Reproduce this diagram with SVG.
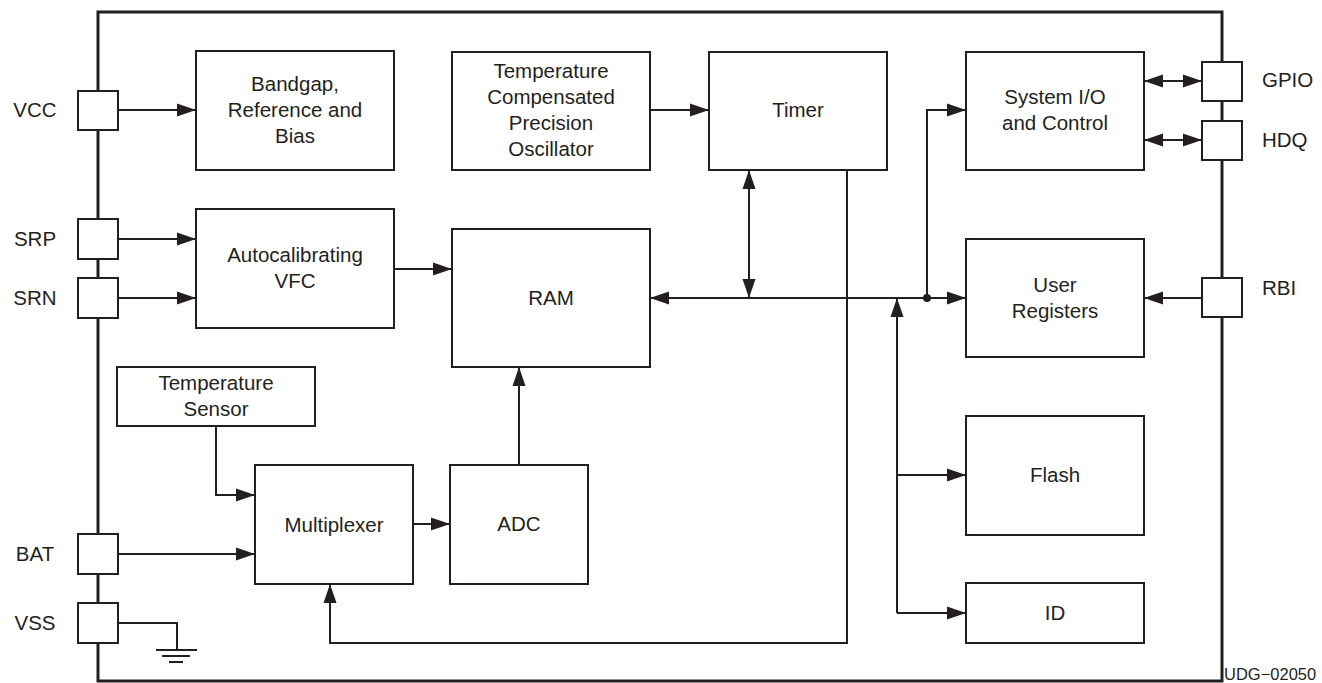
<svg xmlns="http://www.w3.org/2000/svg" width="1322" height="683" viewBox="0 0 1322 683">
<style>
.box{fill:#fff;stroke:#231f20;stroke-width:2}
.pin{fill:#fff;stroke:#231f20;stroke-width:2}
.frame{fill:none;stroke:#231f20;stroke-width:3}
.ln{fill:none;stroke:#231f20;stroke-width:2}
.t{font-family:"Liberation Sans",Arial,sans-serif;font-size:20.5px;fill:#231f20;text-anchor:middle}
.pl{font-family:"Liberation Sans",Arial,sans-serif;font-size:20.5px;fill:#231f20}
</style>
<defs>
<marker id="ah" markerUnits="userSpaceOnUse" markerWidth="20" markerHeight="14" viewBox="0 0 20 14" refX="19" refY="7" orient="auto-start-reverse">
<path d="M0,0.5 L19,7 L0,13.5 z" fill="#231f20"/>
</marker>
</defs>
<rect width="1322" height="683" fill="#fff"/>
<rect class="frame" x="98" y="12" width="1124" height="669"/>

<g id="connectors">
<line class="ln" x1="118" y1="110" x2="196" y2="110" marker-end="url(#ah)"/>
<line class="ln" x1="118" y1="239" x2="196" y2="239" marker-end="url(#ah)"/>
<line class="ln" x1="118" y1="298" x2="196" y2="298" marker-end="url(#ah)"/>
<line class="ln" x1="394" y1="269" x2="452" y2="269" marker-end="url(#ah)"/>
<line class="ln" x1="650" y1="110" x2="709" y2="110" marker-end="url(#ah)"/>
<line class="ln" x1="749" y1="170" x2="749" y2="298" marker-start="url(#ah)" marker-end="url(#ah)"/>
<line class="ln" x1="927" y1="298" x2="650" y2="298" marker-end="url(#ah)"/>
<line class="ln" x1="927" y1="298" x2="966" y2="298" marker-end="url(#ah)"/>
<circle cx="927" cy="298" r="4" fill="#231f20"/>
<polyline class="ln" points="927,298 927,110 966,110" marker-end="url(#ah)"/>
<line class="ln" x1="1144" y1="81" x2="1202" y2="81" marker-start="url(#ah)" marker-end="url(#ah)"/>
<line class="ln" x1="1144" y1="140" x2="1202" y2="140" marker-start="url(#ah)" marker-end="url(#ah)"/>
<line class="ln" x1="1202" y1="298" x2="1144" y2="298" marker-end="url(#ah)"/>
<line class="ln" x1="897" y1="613" x2="897" y2="298" marker-end="url(#ah)"/>
<line class="ln" x1="897" y1="475" x2="966" y2="475" marker-end="url(#ah)"/>
<line class="ln" x1="897" y1="613" x2="966" y2="613" marker-end="url(#ah)"/>
<polyline class="ln" points="847,170 847,643 330,643 330,584" marker-end="url(#ah)"/>
<polyline class="ln" points="216,426 216,495 255,495" marker-end="url(#ah)"/>
<line class="ln" x1="118" y1="554" x2="255" y2="554" marker-end="url(#ah)"/>
<line class="ln" x1="413" y1="524" x2="450" y2="524" marker-end="url(#ah)"/>
<line class="ln" x1="519" y1="465" x2="519" y2="367" marker-end="url(#ah)"/>
<polyline class="ln" points="118,623 177,623 177,650"/>
<line class="ln" x1="156" y1="650" x2="197" y2="650"/>
<line class="ln" x1="162" y1="656" x2="190" y2="656"/>
<line class="ln" x1="169" y1="662" x2="183" y2="662"/>
</g>

<g id="pin-vcc"><rect class="pin" x="78" y="91" width="40" height="39"/><text class="t" x="35" y="117">VCC</text></g>
<g id="pin-srp"><rect class="pin" x="78" y="219" width="40" height="40"/><text class="t" x="35" y="246">SRP</text></g>
<g id="pin-srn"><rect class="pin" x="78" y="278" width="40" height="40"/><text class="t" x="35" y="305">SRN</text></g>
<g id="pin-bat"><rect class="pin" x="78" y="534" width="40" height="40"/><text class="t" x="35" y="561">BAT</text></g>
<g id="pin-vss"><rect class="pin" x="78" y="603" width="40" height="40"/><text class="t" x="35" y="630">VSS</text></g>
<g id="pin-gpio"><rect class="pin" x="1202" y="62" width="40" height="39"/><text class="pl" x="1262" y="87">GPIO</text></g>
<g id="pin-hdq"><rect class="pin" x="1202" y="121" width="40" height="39"/><text class="pl" x="1262" y="147">HDQ</text></g>
<g id="pin-rbi"><rect class="pin" x="1202" y="278" width="40" height="39"/><text class="pl" x="1262" y="295">RBI</text></g>

<g id="bandgap"><rect class="box" x="196" y="51" width="198" height="119"/>
<text class="t" x="295" y="91">Bandgap,</text><text class="t" x="295" y="117">Reference and</text><text class="t" x="295" y="143">Bias</text></g>
<g id="oscillator"><rect class="box" x="452" y="52" width="198" height="118"/>
<text class="t" x="551" y="78">Temperature</text><text class="t" x="551" y="104">Compensated</text><text class="t" x="551" y="130">Precision</text><text class="t" x="551" y="156">Oscillator</text></g>
<g id="timer"><rect class="box" x="709" y="52" width="178" height="118"/><text class="t" x="798" y="117">Timer</text></g>
<g id="sysio"><rect class="box" x="966" y="52" width="178" height="118"/>
<text class="t" x="1055" y="104">System I/O</text><text class="t" x="1055" y="130">and Control</text></g>
<g id="vfc"><rect class="box" x="196" y="209" width="198" height="119"/>
<text class="t" x="295" y="262">Autocalibrating</text><text class="t" x="295" y="288">VFC</text></g>
<g id="ram"><rect class="box" x="452" y="229" width="198" height="138"/><text class="t" x="551" y="305">RAM</text></g>
<g id="userreg"><rect class="box" x="966" y="239" width="178" height="118"/>
<text class="t" x="1055" y="292">User</text><text class="t" x="1055" y="318">Registers</text></g>
<g id="tempsensor"><rect class="box" x="117" y="367" width="198" height="59"/>
<text class="t" x="216" y="390">Temperature</text><text class="t" x="216" y="416">Sensor</text></g>
<g id="mux"><rect class="box" x="255" y="465" width="158" height="119"/><text class="t" x="334" y="532">Multiplexer</text></g>
<g id="adc"><rect class="box" x="450" y="465" width="138" height="119"/><text class="t" x="519" y="531">ADC</text></g>
<g id="flash"><rect class="box" x="966" y="416" width="178" height="119"/><text class="t" x="1055" y="482">Flash</text></g>
<g id="id"><rect class="box" x="966" y="583" width="178" height="60"/><text class="t" x="1055" y="620">ID</text></g>

<text x="1224" y="680" font-family="'Liberation Sans',Arial,sans-serif" font-size="16.5" fill="#231f20">UDG−02050</text>
</svg>
